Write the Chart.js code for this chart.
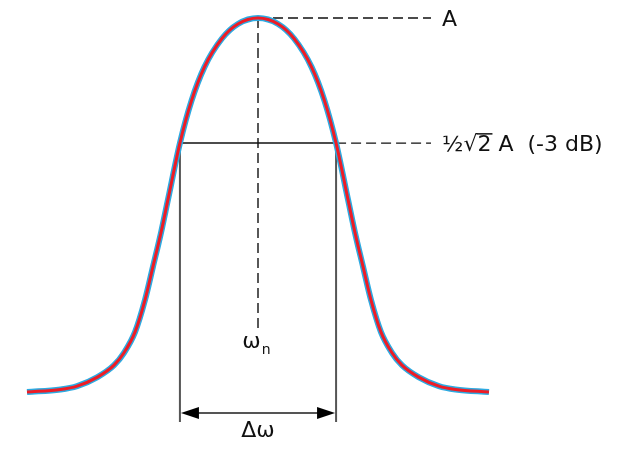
<!DOCTYPE html>
<html>
<head>
<meta charset="utf-8">
<script src="https://cdn.jsdelivr.net/npm/chart.js@4.4.1/dist/chart.umd.min.js"></script>
<style>
    html, body { margin: 0; padding: 0; background: #ffffff; }
    #wrap { position: relative; width: 617px; height: 457px; }
</style>
</head>
<body>
<div id="wrap"><canvas id="resonance"></canvas></div>
<script>
// -----------------------------------------------------------------------
// Data: response amplitude (fraction of A) against frequency (omega / omega_n)
// -----------------------------------------------------------------------
var omega = [
    0.000, 0.145, 0.217, 0.305, 0.377, 0.420, 0.468, 0.511, 0.545, 0.580,
    0.610, 0.662, 0.712, 0.768, 0.844, 0.913, 1.000, 1.087, 1.156, 1.232,
    1.288, 1.338, 1.390, 1.420, 1.455, 1.489, 1.532, 1.580, 1.623, 1.695,
    1.783, 1.855, 2.000
];
var amplitude = [
    0.124, 0.130, 0.138, 0.159, 0.187, 0.216, 0.265, 0.340, 0.417, 0.497,
    0.574, 0.707, 0.806, 0.885, 0.952, 0.986, 1.000, 0.986, 0.952, 0.885,
    0.806, 0.707, 0.574, 0.497, 0.417, 0.340, 0.265, 0.216, 0.187, 0.159,
    0.138, 0.130, 0.124
];

var peakOmega = 1.0;          // omega_n
var peakLevel = 1.0;          // A
var halfPowerLevel = 0.707;   // 1/2 sqrt(2) A
var bandEdges = [0.662, 1.338]; // ends of delta omega

var levelLabels = ["A", "½√2 A  (-3 dB)"];
var centerLabel = ["ω", "n"];
var bandLabel = "Δω";

// -----------------------------------------------------------------------
// Layout of the guide lines (in axis units)
// -----------------------------------------------------------------------
var leaderEnd = 1.749;   // where the dashed leaders stop
var labelX = 1.797;      // left edge of the level labels
var centerDashEnd = 0.274;
var edgeLineEnd = 0.054;
var arrowLevel = 0.075;
var centerLabelLevel = 0.228;
var bandLabelLevel = 0.018;

var font = "'DejaVu Sans', sans-serif";

function pts(xs, ys) {
    return xs.map(function (x, i) { return { x: x, y: ys[i] }; });
}

function guide(points, color, width, dash) {
    return {
        data: points,
        borderColor: color,
        borderWidth: width,
        borderDash: dash || [],
        pointRadius: 0,
        showLine: true,
        clip: false,
        order: 5
    };
}

// labels and the delta omega arrow
var annotations = {
    id: "annotations",
    afterDatasetsDraw: function (chart) {
        var ctx = chart.ctx;
        var x = chart.scales.x;
        var y = chart.scales.y;
        ctx.save();

        // arrow
        var ay = y.getPixelForValue(arrowLevel);
        var x0 = x.getPixelForValue(bandEdges[0]);
        var x1 = x.getPixelForValue(bandEdges[1]);
        ctx.strokeStyle = "#555555";
        ctx.lineWidth = 2;
        ctx.beginPath();
        ctx.moveTo(x0 + 10, ay);
        ctx.lineTo(x1 - 10, ay);
        ctx.stroke();
        ctx.fillStyle = "#000000";
        ctx.beginPath();
        ctx.moveTo(x0 + 1, ay);
        ctx.lineTo(x0 + 19, ay - 6);
        ctx.lineTo(x0 + 19, ay + 6);
        ctx.closePath();
        ctx.fill();
        ctx.beginPath();
        ctx.moveTo(x1 - 1, ay);
        ctx.lineTo(x1 - 19, ay - 6);
        ctx.lineTo(x1 - 19, ay + 6);
        ctx.closePath();
        ctx.fill();

        // level labels
        ctx.fillStyle = "#111111";
        ctx.font = "22px " + font;
        ctx.textAlign = "left";
        ctx.textBaseline = "alphabetic";
        var cap = ctx.measureText("A").actualBoundingBoxAscent;
        var lx = x.getPixelForValue(labelX);
        ctx.fillText(levelLabels[0], lx, y.getPixelForValue(peakLevel) + cap / 2);
        var hy = y.getPixelForValue(halfPowerLevel) + cap / 2;
        ctx.fillText(levelLabels[1], lx, hy);
        // vinculum of the square root over the 2
        var rootStart = lx + ctx.measureText("½√").width;
        var rootEnd = lx + ctx.measureText("½√2").width;
        var rootTop = hy - ctx.measureText("√").actualBoundingBoxAscent;
        ctx.strokeStyle = "#111111";
        ctx.lineWidth = 1.5;
        ctx.beginPath();
        ctx.moveTo(rootStart - 1, rootTop + 0.75);
        ctx.lineTo(rootEnd + 1, rootTop + 0.75);
        ctx.stroke();

        // omega_n
        var cx = x.getPixelForValue(peakOmega);
        var cy = y.getPixelForValue(centerLabelLevel);
        ctx.font = "22px " + font;
        var wW = ctx.measureText(centerLabel[0]).width;
        ctx.font = "14px " + font;
        var nW = ctx.measureText(centerLabel[1]).width;
        var left = cx - (wW + nW) / 2 - 2;
        ctx.font = "22px " + font;
        ctx.fillText(centerLabel[0], left, cy);
        ctx.font = "14px " + font;
        ctx.fillText(centerLabel[1], left + wW + 1, cy + 6);

        // delta omega
        ctx.font = "22px " + font;
        ctx.textAlign = "center";
        ctx.fillText(bandLabel, cx, y.getPixelForValue(bandLabelLevel));
        ctx.restore();
    }
};

var config = {
    type: "scatter",
    data: {
        datasets: [
            {
                data: pts(omega, amplitude),
                borderColor: "#ee1c25",
                borderWidth: 3,
                pointRadius: 0,
                showLine: true,
                cubicInterpolationMode: "monotone",
                clip: false,
                order: 0
            },
            {
                data: pts(omega, amplitude),
                borderColor: "rgb(45, 170, 225)",
                borderWidth: 6,
                pointRadius: 0,
                showLine: true,
                cubicInterpolationMode: "monotone",
                clip: false,
                order: 1
            },
            guide(pts([peakOmega, leaderEnd], [peakLevel, peakLevel]), "#111111", 1.4, [10, 5]),
            guide(pts([peakOmega, peakOmega], [peakLevel, centerDashEnd]), "#111111", 1.4, [10, 5]),
            guide(pts(bandEdges, [halfPowerLevel, halfPowerLevel]), "#111111", 1.5),
            guide(pts([bandEdges[1], leaderEnd], [halfPowerLevel, halfPowerLevel]), "#111111", 1.4, [10, 5]),
            guide(pts([bandEdges[0], bandEdges[0]], [halfPowerLevel, edgeLineEnd]), "#555555", 2),
            guide(pts([bandEdges[1], bandEdges[1]], [halfPowerLevel, edgeLineEnd]), "#555555", 2)
        ]
    },
    options: {
        responsive: true,
        maintainAspectRatio: false,
        animation: false,
        layout: {
            padding: { left: 27, right: 128, top: 18, bottom: 12 }
        },
        plugins: {
            legend: { display: false },
            tooltip: { enabled: false }
        },
        scales: {
            x: { type: "linear", min: 0, max: 2, display: false },
            y: { type: "linear", min: 0, max: 1, display: false }
        }
    },
    plugins: [annotations]
};

new Chart(document.getElementById("resonance"), config);
</script>
</body>
</html>
